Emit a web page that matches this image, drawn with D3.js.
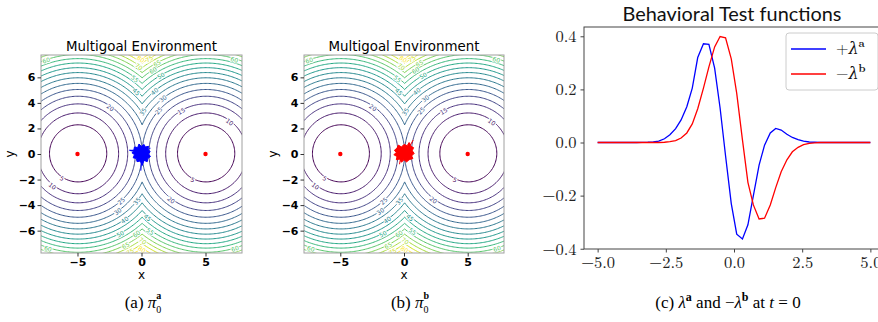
<!DOCTYPE html>
<html>
<head>
<meta charset="utf-8">
<script src="https://cdn.jsdelivr.net/npm/d3@7"></script>
<style>
  body { margin: 0; background: #fff; }
  svg { display: block; }
</style>
</head>
<body>
<div id="chart"></div>
<script>
// ---- data ----
const goals = [[-5, 0], [5, 0]];
const contourLevels = [5, 10, 15, 20, 25, 30, 35, 40, 45, 50, 55, 60, 65, 70, 75, 80];
// [level, x, side of the x axis] for the inline contour labels
const contourLabels = [
  [60, -7.45, 1], [80, -0.05, 1], [75, 0.6, 1], [70, -0.2, 1], [65, 1.2, 1],
  [60, 0.9, 1], [55, -0.5, 1], [50, 1.5, 1], [45, -0.4, 1], [40, 1.0, 1],
  [35, 0.1, 1], [30, 1.66, 1], [25, 1.33, 1], [20, -2.42, 1], [15, 3.1, 1],
  [10, 6.9, 1], [60, 7.26, 1],
  [5, -6.2, -1], [10, -6.95, -1], [5, 4.0, -1], [20, 2.32, -1], [60, -7.3, -1],
  [60, 7.3, -1], [25, -1.6, -1], [30, -1.86, -1], [35, -0.37, -1], [40, -1.33, -1],
  [45, 0.49, -1], [50, -1.67, -1], [55, 0.69, -1], [60, -0.41, -1], [65, -1.25, -1],
  [70, 0.1, -1], [75, -0.9, -1], [80, 0.05, -1]
];
const envXTicks = [-5, 0, 5];
const envYTicks = [-6, -4, -2, 0, 2, 4, 6];

// trajectories of pi_0 (start state cloud)
const blobA = [
  [-0.92, 0.28], [-0.6, 0.3], [-0.55, 0.55], [-0.3, 0.5], [-0.2, 0.78], [0.0, 0.6],
  [0.2, 0.75], [0.3, 0.55], [0.55, 0.6], [0.5, 0.35], [0.68, 0.2], [0.55, 0.0],
  [0.7, -0.2], [0.5, -0.35], [0.45, -0.6], [0.2, -0.5], [0.05, -0.9], [-0.1, -0.55],
  [-0.35, -0.6], [-0.4, -0.35], [-0.65, -0.3], [-0.55, -0.05], [-0.75, 0.1], [-0.55, 0.2]
];
const tailsA = [[[0.0, -0.5], [-0.05, -1.3]], [[-0.6, 0.25], [-0.95, 0.3]], [[0.4, 0.3], [0.7, 0.45]]];
const blobB = [
  [-0.75, 0.3], [-0.55, 0.45], [-0.45, 0.7], [-0.2, 0.55], [0.0, 0.75], [0.25, 0.65],
  [0.4, 0.9], [0.55, 0.6], [0.75, 0.5], [0.65, 0.25], [0.8, 0.05], [0.6, -0.15],
  [0.7, -0.35], [0.4, -0.45], [0.2, -0.62], [0.0, -0.45], [-0.2, -0.65], [-0.35, -0.4],
  [-0.6, -0.45], [-0.55, -0.2], [-0.8, -0.05], [-0.6, 0.1]
];
const tailsB = [[[0.5, 0.7], [0.72, 1.1]], [[-0.3, -0.5], [-0.35, -0.8]]];

// behavioral test functions at t = 0
const testX = [
  -5.00, -4.80, -4.59, -4.39, -4.18, -3.98, -3.78, -3.57, -3.37, -3.16,
  -2.96, -2.76, -2.55, -2.35, -2.14, -1.94, -1.73, -1.53, -1.33, -1.12,
  -0.92, -0.71, -0.51, -0.31, -0.10, 0.10, 0.31, 0.51, 0.71, 0.92,
  1.12, 1.33, 1.53, 1.73, 1.94, 2.14, 2.35, 2.55, 2.76, 2.96,
  3.16, 3.37, 3.57, 3.78, 3.98, 4.18, 4.39, 4.59, 4.80, 5.00
];
const lambdaA = [
  0, 0, 0, 0, 0, 0, 0, 0, 0.0005, 0.001,
  0.002, 0.005, 0.014, 0.029, 0.052, 0.085, 0.135, 0.205, 0.32, 0.372,
  0.370, 0.28, 0.13, -0.05, -0.23, -0.345, -0.363, -0.31, -0.20, -0.085,
  -0.01, 0.036, 0.053, 0.047, 0.031, 0.019, 0.011, 0.005, 0.002, 0.001,
  0, 0, 0, 0, 0, 0, 0, 0, 0, 0
];
const lambdaBNeg = [
  0, 0, 0, 0, 0, 0, 0, 0, 0, 0,
  0, 0, 0.001, 0.003, 0.007, 0.017, 0.036, 0.07, 0.127, 0.205,
  0.285, 0.36, 0.399, 0.394, 0.315, 0.185, 0.01, -0.15, -0.235, -0.288,
  -0.285, -0.235, -0.17, -0.11, -0.065, -0.035, -0.018, -0.008, -0.003, -0.001,
  0, 0, 0, 0, 0, 0, 0, 0, 0, 0
];
const testXTicks = [-5, -2.5, 0, 2.5, 5];
const testYTicks = [-0.4, -0.2, 0, 0.2, 0.4];

// ---- drawing ----
const W = 878, H = 322;
const svg = d3.select("#chart").append("svg").attr("width", W).attr("height", H);

const color = d3.scaleSequential(d3.interpolateViridis).domain([5, 80]);

// cost field of the multigoal env: squared distance to the closest goal
const gridMin = -8.5, gridStep = 0.1, gridN = 171;
const field = new Array(gridN * gridN);
for (let j = 0; j < gridN; j++) {
  for (let i = 0; i < gridN; i++) {
    const px = gridMin + i * gridStep, py = gridMin + j * gridStep;
    field[j * gridN + i] = d3.min(goals, g => (px - g[0]) ** 2 + (py - g[1]) ** 2);
  }
}
const contours = d3.contours().size([gridN, gridN]).thresholds(contourLevels)(field);

function fitText(sel, target) {
  const w = sel.node().getComputedTextLength();
  const fs = parseFloat(sel.style("font-size"));
  sel.style("font-size", (fs * target / w).toFixed(2) + "px");
}

function envPanel(id, left, right, blob, tails, trajColor) {
  const top = 55, bottom = 253;
  const x = d3.scaleLinear().domain([-7.85, 7.85]).range([left, right]);
  const y = d3.scaleLinear().domain([-7.75, 7.75]).range([bottom, top]);

  svg.append("clipPath").attr("id", id)
    .append("rect").attr("x", left).attr("y", top)
    .attr("width", right - left).attr("height", bottom - top);

  const g = svg.append("g").attr("clip-path", `url(#${id})`);

  const proj = d3.geoTransform({
    point(px, py) {
      this.stream.point(x(gridMin + px * gridStep), y(gridMin + py * gridStep));
    }
  });
  const path = d3.geoPath(proj);

  g.selectAll("path.contour")
    .data(contours)
    .join("path")
    .attr("class", "contour")
    .attr("d", path)
    .attr("fill", "none")
    .attr("stroke", d => color(d.value))
    .attr("stroke-width", 1);

  // inline labels sitting on their own contour
  contourLabels.forEach(([lvl, lx, side]) => {
    const goal = goals.reduce((a, b) => (Math.abs(lx - a[0]) <= Math.abs(lx - b[0]) ? a : b));
    const dx = lx - goal[0];
    const rem = lvl - dx * dx;
    if (rem < 0) return;
    const dy = side * Math.sqrt(rem);
    let ang = Math.atan2(dx, dy) * 180 / Math.PI;
    if (ang > 90) ang -= 180;
    if (ang < -90) ang += 180;
    g.append("text")
      .attr("transform", `translate(${x(lx)},${y(goal[1] + dy)}) rotate(${ang})`)
      .attr("text-anchor", "middle")
      .attr("dominant-baseline", "central")
      .style("font-family", "DejaVu Sans")
      .style("font-size", "6px")
      .style("paint-order", "stroke")
      .attr("stroke", "#fff")
      .attr("stroke-width", 2)
      .attr("fill", color(lvl))
      .text(lvl);
  });

  // start-state trajectories
  const line = d3.line().x(d => x(d[0])).y(d => y(d[1]));
  g.append("path")
    .attr("d", line.curve(d3.curveLinearClosed)(blob))
    .attr("fill", trajColor)
    .attr("stroke", trajColor)
    .attr("stroke-width", 1);
  tails.forEach(t => {
    g.append("path")
      .attr("d", d3.line().x(d => x(d[0])).y(d => y(d[1]))(t))
      .attr("fill", "none")
      .attr("stroke", trajColor)
      .attr("stroke-width", 1);
  });

  g.selectAll("circle.goal")
    .data(goals)
    .join("circle")
    .attr("class", "goal")
    .attr("cx", d => x(d[0]))
    .attr("cy", d => y(d[1]))
    .attr("r", 2.2)
    .attr("fill", "#ff0000");

  // frame
  svg.append("rect")
    .attr("x", left).attr("y", top)
    .attr("width", right - left).attr("height", bottom - top)
    .attr("fill", "none").attr("stroke", "#a0a0a0").attr("stroke-width", 1);

  const xAxis = svg.append("g")
    .attr("transform", `translate(0,${bottom})`)
    .call(d3.axisBottom(x).tickValues(envXTicks).tickFormat(d3.format("d")).tickSize(3.5).tickPadding(2));
  const yAxis = svg.append("g")
    .attr("transform", `translate(${left},0)`)
    .call(d3.axisLeft(y).tickValues(envYTicks).tickFormat(d3.format("d")).tickSize(3.5).tickPadding(2));
  [xAxis, yAxis].forEach(a => {
    a.select(".domain").remove();
    a.selectAll("line").attr("stroke", "#333");
    a.selectAll("text")
      .style("font-family", "DejaVu Sans")
      .style("font-weight", "bold")
      .style("font-size", "11px")
      .attr("fill", "#000");
  });

  const cx = (left + right) / 2;
  const title = svg.append("text")
    .attr("x", cx).attr("y", 51)
    .attr("text-anchor", "middle")
    .style("font-family", "DejaVu Sans")
    .style("font-size", "13px")
    .text("Multigoal Environment");
  fitText(title, 151);

  svg.append("text")
    .attr("x", x(0)).attr("y", 279)
    .attr("text-anchor", "middle")
    .style("font-family", "DejaVu Sans")
    .style("font-size", "12px")
    .text("x");
  svg.append("text")
    .attr("transform", `translate(${left - 27},${y(0)}) rotate(-90)`)
    .attr("text-anchor", "middle")
    .style("font-family", "DejaVu Sans")
    .style("font-size", "12px")
    .text("y");
}

envPanel("clipA", 41, 242, blobA, tailsA, "#0000ff");
envPanel("clipB", 304, 504, blobB, tailsB, "#ff0000");

// ---- panel (c) ----
{
  const left = 584, right = 884, top = 27, bottom = 249;
  const x = d3.scaleLinear().domain([-5.5, 5.5]).range([left, right]);
  const y = d3.scaleLinear().domain([-0.401, 0.435]).range([bottom, top]);
  const serif = "'Latin Modern Roman', 'CMU Serif', 'DejaVu Serif', serif";

  const line = d3.line().x((d, i) => x(testX[i])).y(d => y(d));
  svg.append("path").datum(lambdaA)
    .attr("d", line).attr("fill", "none")
    .attr("stroke", "#0000ff").attr("stroke-width", 1.3);
  svg.append("path").datum(lambdaBNeg)
    .attr("d", line).attr("fill", "none")
    .attr("stroke", "#ff0000").attr("stroke-width", 1.3);

  svg.append("rect")
    .attr("x", left).attr("y", top)
    .attr("width", right - left).attr("height", bottom - top)
    .attr("fill", "none").attr("stroke", "#444").attr("stroke-width", 1);

  const xAxis = svg.append("g")
    .attr("transform", `translate(0,${bottom})`)
    .call(d3.axisBottom(x).tickValues(testXTicks).tickFormat(d3.format(".1f")).tickSize(3.5).tickPadding(4));
  const yAxis = svg.append("g")
    .attr("transform", `translate(${left},0)`)
    .call(d3.axisLeft(y).tickValues(testYTicks).tickFormat(d3.format(".1f")).tickSize(3.5).tickPadding(4));
  [xAxis, yAxis].forEach(a => {
    a.select(".domain").remove();
    a.selectAll("line").attr("stroke", "#444");
    a.selectAll("text")
      .style("font-family", serif)
      .style("font-size", "16.5px")
      .attr("fill", "#222");
  });

  const title = svg.append("text")
    .attr("x", 732).attr("y", 21)
    .attr("text-anchor", "middle")
    .style("font-family", "Lato")
    .style("font-size", "19px")
    .attr("fill", "#111")
    .text("Behavioral Test functions");
  fitText(title, 219);

  // legend
  const lg = svg.append("g");
  lg.append("rect")
    .attr("x", 786).attr("y", 33).attr("width", 92).attr("height", 57)
    .attr("rx", 3).attr("fill", "#fff").attr("fill-opacity", 0.8)
    .attr("stroke", "#ccc").attr("stroke-width", 1);
  const entries = [["+", "a", "#0000ff"], ["\u2212", "b", "#ff0000"]];
  entries.forEach(([sign, sup, c], i) => {
    const ly = 49 + i * 25;
    lg.append("line").attr("x1", 791).attr("x2", 826).attr("y1", ly).attr("y2", ly)
      .attr("stroke", c).attr("stroke-width", 1.3);
    const t = lg.append("text").attr("x", 836).attr("y", ly + 5)
      .style("font-family", serif).style("font-size", "16px").attr("fill", "#111");
    t.append("tspan").text(sign);
    t.append("tspan").style("font-style", "italic").text("\u03bb");
    t.append("tspan").attr("dy", -7).style("font-size", "11px").style("font-weight", "bold").text(sup);
  });
}

// ---- captions ----
{
  const capFont = "'Liberation Serif', 'Times New Roman', serif";
  function caption(cx, build) {
    const t = svg.append("text").attr("x", cx).attr("y", 308)
      .attr("text-anchor", "middle")
      .style("font-family", capFont).style("font-size", "17px").attr("fill", "#000");
    build(t);
  }
  function piLabel(t, tag, sup) {
    t.append("tspan").text(tag + " ");
    t.append("tspan").style("font-style", "italic").text("\u03c0");
    t.append("tspan").attr("dy", 5).style("font-size", "10px").text("0");
    t.append("tspan").attr("dx", -5).attr("dy", -14).style("font-size", "10px").style("font-weight", "bold").text(sup);
  }
  caption(143, t => piLabel(t, "(a)", "a"));
  caption(410, t => piLabel(t, "(b)", "b"));
  caption(728, t => {
    t.append("tspan").text("(c) ");
    t.append("tspan").style("font-style", "italic").text("\u03bb");
    t.append("tspan").attr("dy", -7).style("font-size", "12px").style("font-weight", "bold").text("a");
    t.append("tspan").attr("dy", 7).text(" and \u2212");
    t.append("tspan").style("font-style", "italic").text("\u03bb");
    t.append("tspan").attr("dy", -7).style("font-size", "12px").style("font-weight", "bold").text("b");
    t.append("tspan").attr("dy", 7).text(" at ");
    t.append("tspan").style("font-style", "italic").text("t");
    t.append("tspan").text(" = 0");
  });
}
</script>
</body>
</html>
